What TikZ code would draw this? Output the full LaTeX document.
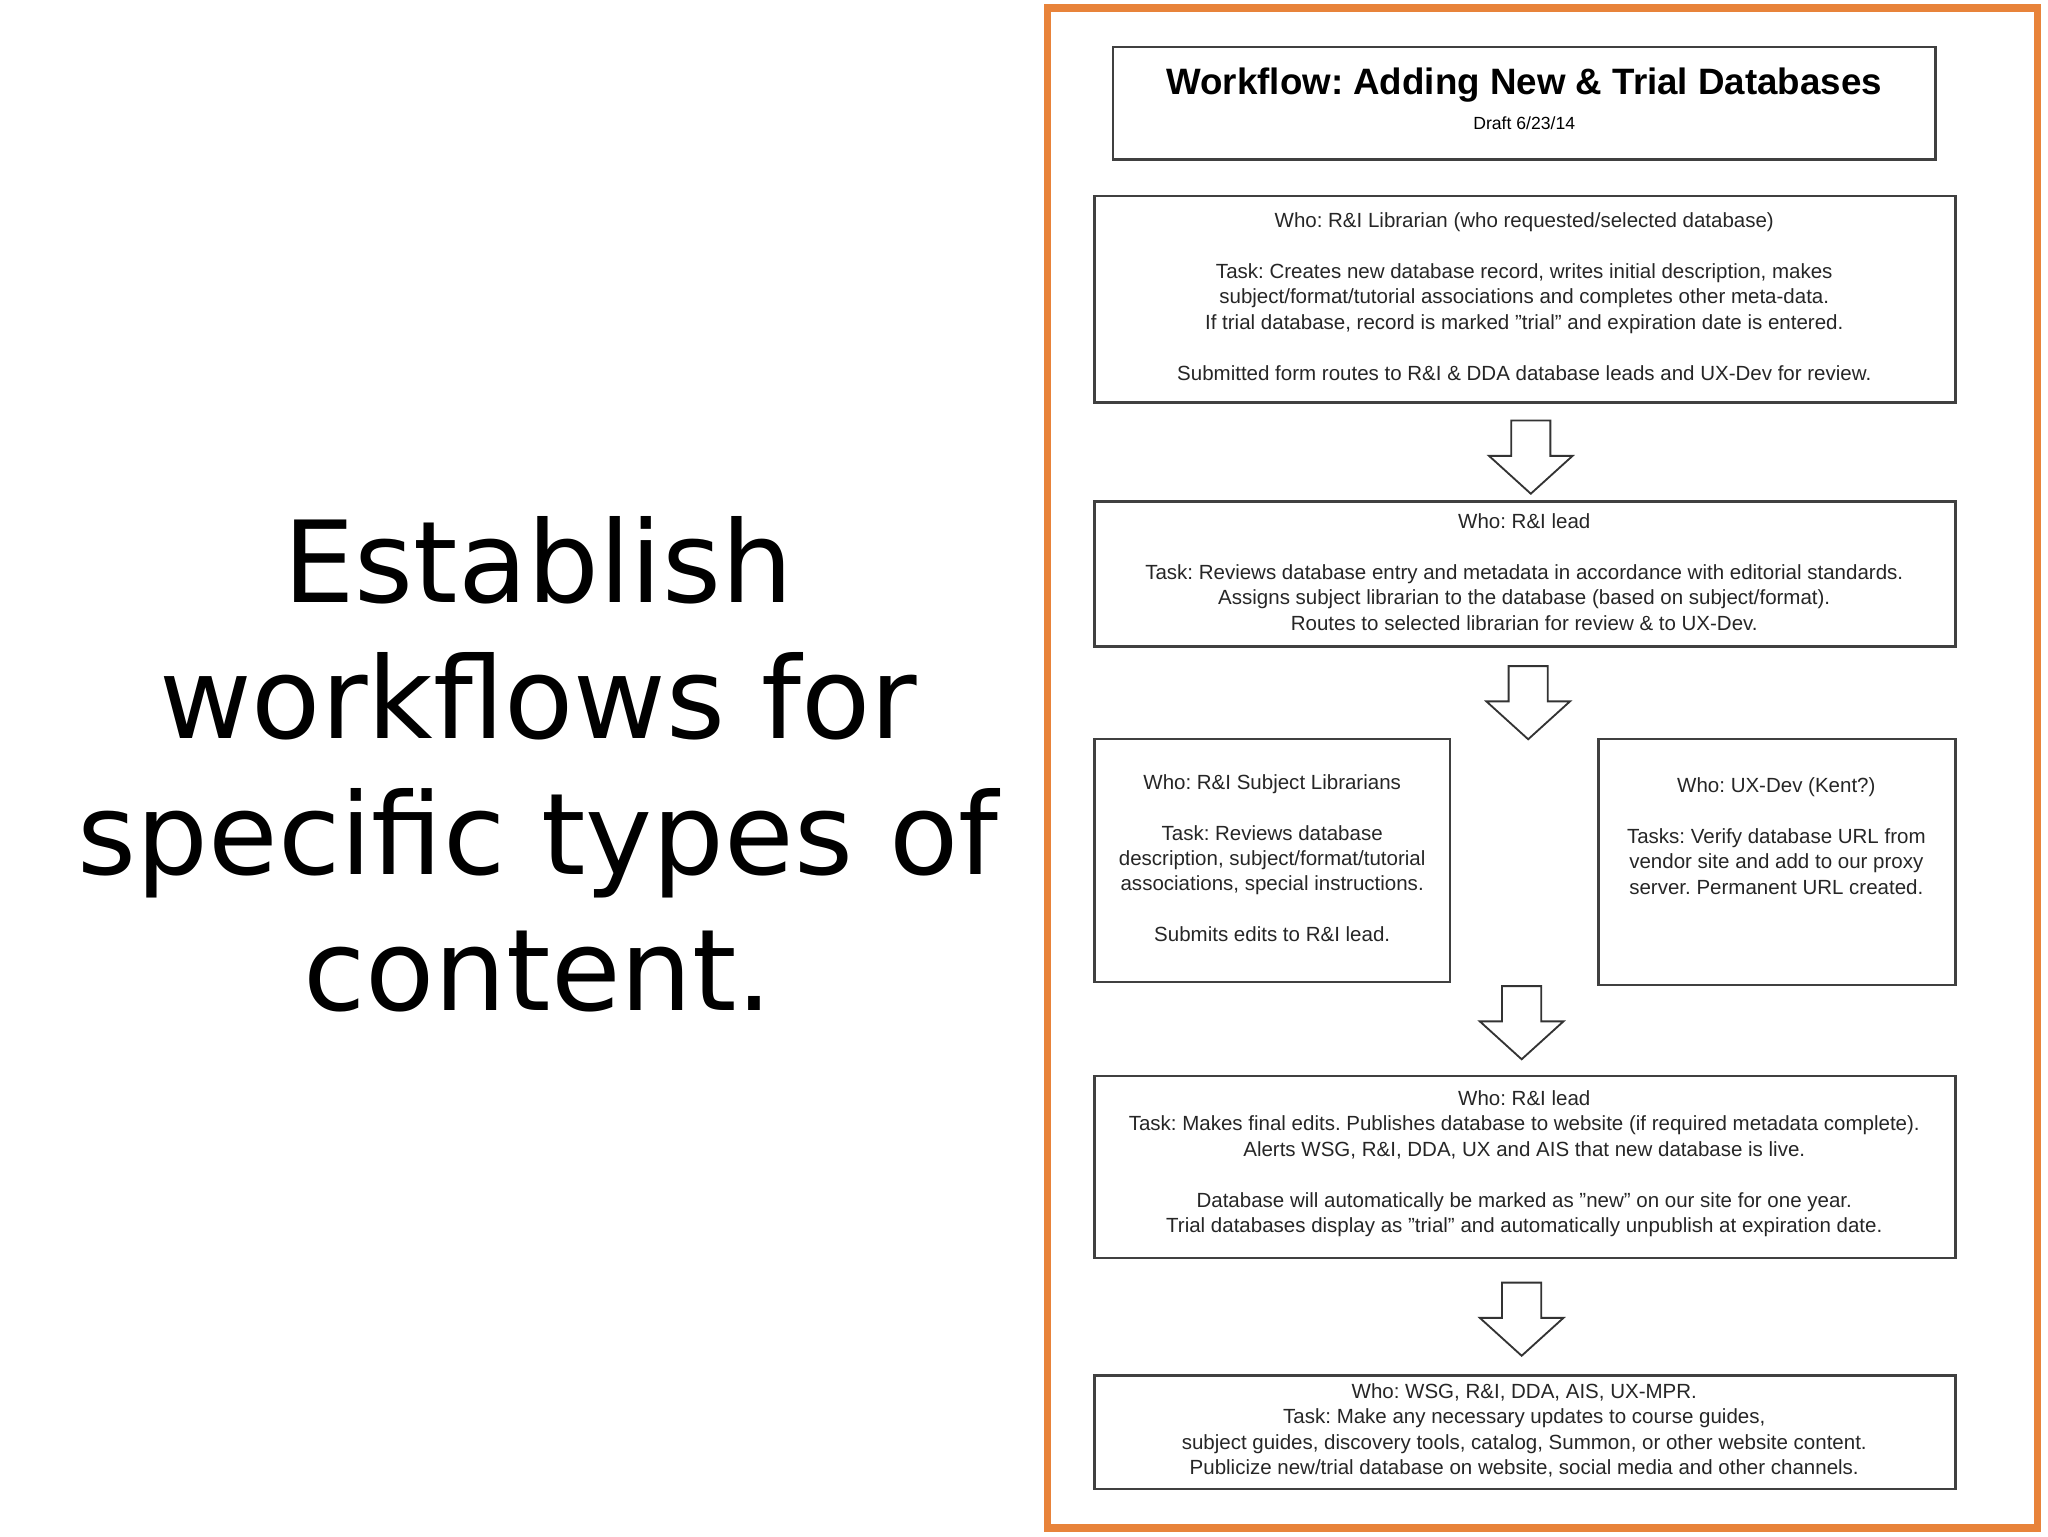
\documentclass[tikz,border=0pt]{standalone}
\usepackage{fontspec}
\setmainfont{Liberation Sans}
\newfontfamily\bigfont{DejaVu Sans}
\frenchspacing
\begin{document}
\begin{tikzpicture}[x=0.03cm,y=-0.03cm,
  bx/.style={draw=black!75,line width=1.6pt},
  txt/.style={align=center,font=\fontsize{13.4}{16.6}\selectfont,text=black!85},
  barrow/.style={draw=black!80,line width=1.2pt,fill=white}]
\useasboundingbox (0,0) rectangle (1568,1176);
\draw[draw={rgb,255:red,232;green,131;blue,58},line width=5pt] (802,6) rectangle (1560,1170);
\node[align=center,font=\bigfont\fontsize{74}{89}\selectfont] (left) at (412,585) {Establish\\workflows for\\specific types of\\content.};
\draw[bx] (852,36) rectangle (1482,122);
\node[font=\bfseries\fontsize{24}{26}\selectfont] (title) at (1167,65) {Workflow: Adding New \& Trial Databases};
\node[font=\fontsize{11.5}{13}\selectfont] (draft) at (1167,94) {Draft 6/23/14};
\draw[bx] (838,150) rectangle (1497,308);
\node[txt] (t1) at (1167,227) {Who: R\&I Librarian (who requested/selected database)\\[16.6pt]Task: Creates new database record, writes initial description, makes\\subject/format/tutorial associations and completes other meta-data.\\If trial database, record is marked "trial" and expiration date is entered.\\[16.6pt]Submitted form routes to R\&I \& DDA database leads and UX-Dev for review.};
\draw[bx] (838,384) rectangle (1497,495);
\node[txt] (t2) at (1167,438) {Who: R\&I lead\\[16.6pt]Task: Reviews database entry and metadata in accordance with editorial standards.\\Assigns subject librarian to the database (based on subject/format).\\Routes to selected librarian for review \& to UX-Dev.};
\draw[bx] (838,566) rectangle (1110,752);
\node[txt] (t3) at (974,657) {Who: R\&I Subject Librarians\\[16.6pt]Task: Reviews database\\description, subject/format/tutorial\\associations, special instructions.\\[16.6pt]Submits edits to R\&I lead.};
\draw[bx] (1224,566) rectangle (1497,754);
\node[txt] (t4) at (1360,640) {Who: UX-Dev (Kent?)\\[16.6pt]Tasks: Verify database URL from\\vendor site and add to our proxy\\server. Permanent URL created.};
\draw[bx] (838,824) rectangle (1497,963);
\node[txt] (t5) at (1167,891) {Who: R\&I lead\\Task: Makes final edits. Publishes database to website (if required metadata complete).\\Alerts WSG, R\&I, DDA, UX and AIS that new database is live.\\[16.6pt]Database will automatically be marked as "new" on our site for one year.\\Trial databases display as "trial" and automatically unpublish at expiration date.};
\draw[bx] (838,1053) rectangle (1497,1140);
\node[txt] (t6) at (1167,1095) {Who: WSG, R\&I, DDA, AIS, UX-MPR.\\Task: Make any necessary updates to course guides,\\subject guides, discovery tools, catalog, Summon, or other website content.\\Publicize new/trial database on website, social media and other channels.};
\foreach \cx/\ty in {1172/322,1170/510,1165/755,1165/982}{
  \draw[barrow] (\cx-15,\ty) -- (\cx+15,\ty) -- (\cx+15,\ty+27) -- (\cx+32,\ty+27) -- (\cx,\ty+56) -- (\cx-32,\ty+27) -- (\cx-15,\ty+27) -- cycle;}
\end{tikzpicture}
\end{document}
